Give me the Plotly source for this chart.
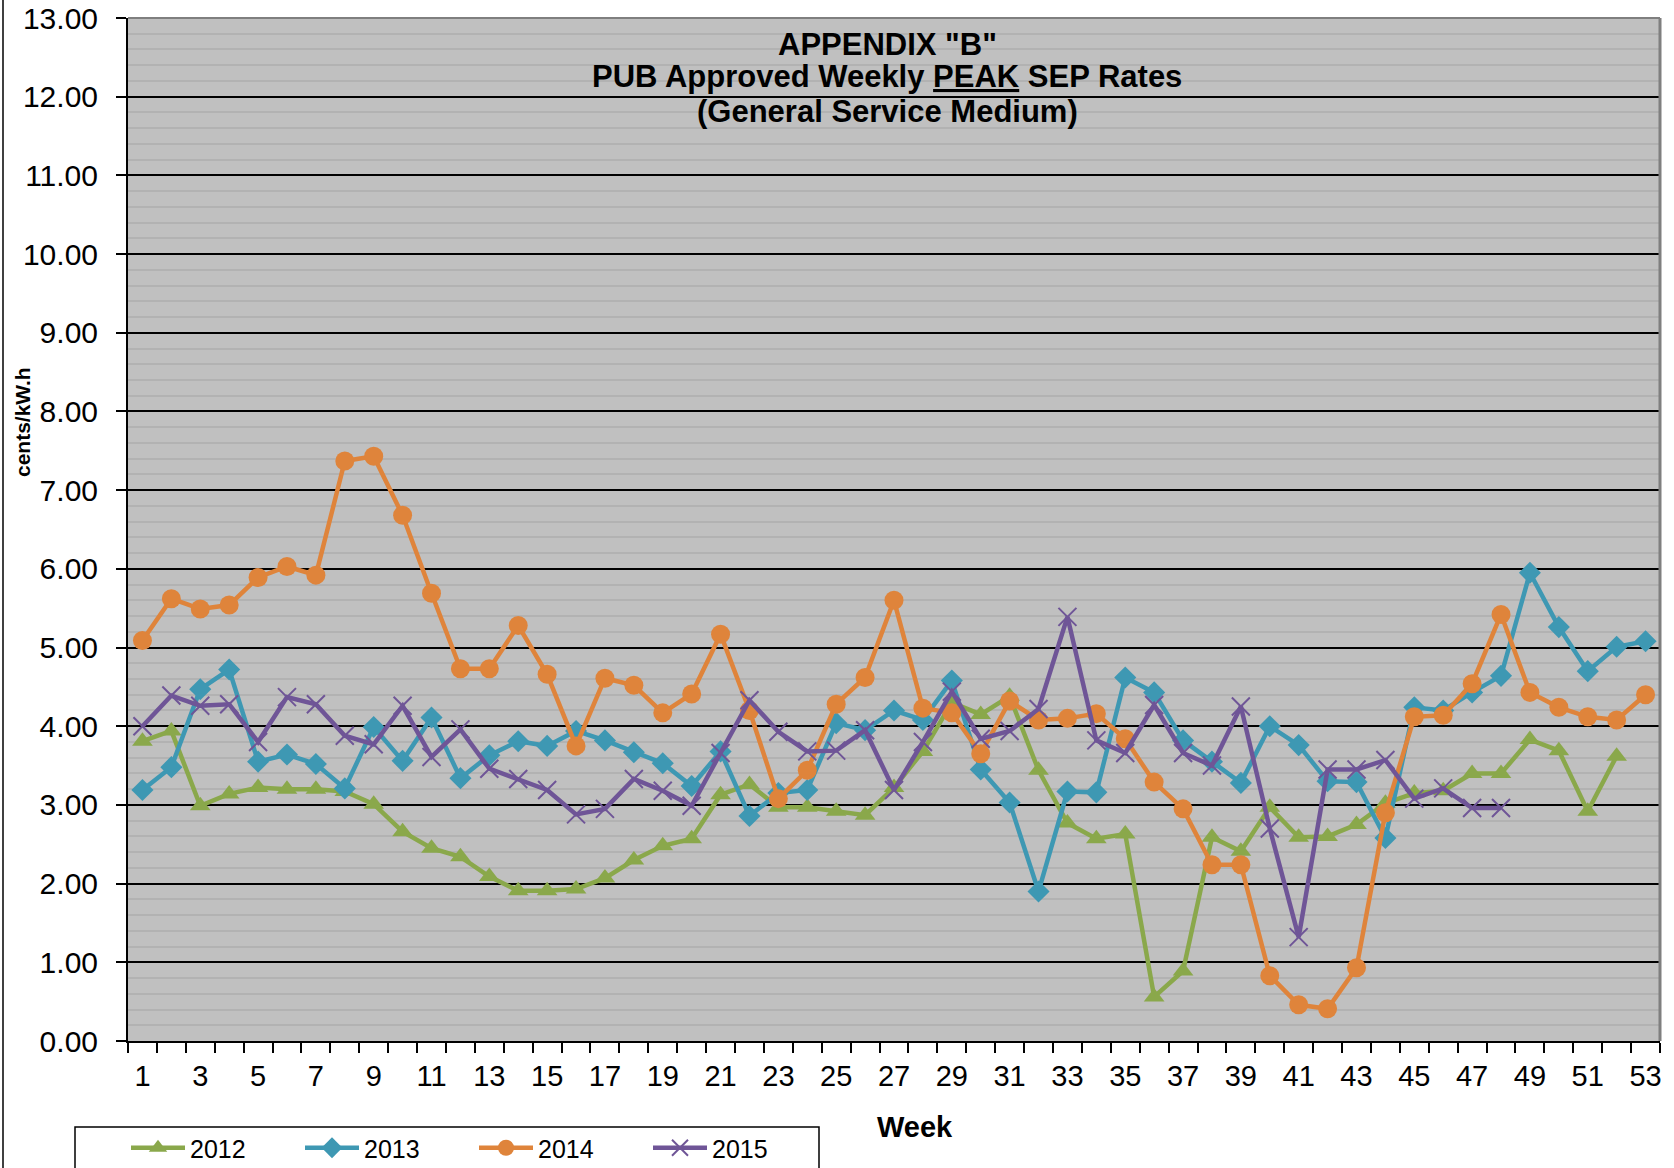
import plotly.graph_objects as go

# ---------------- data ----------------
weeks = list(range(1, 54))

rates_2012 = [3.81, 3.94, 2.99, 3.14, 3.22, 3.20, 3.20, 3.17, 3.01, 2.66,
              2.45, 2.34, 2.09, 1.91, 1.91, 1.93, 2.07, 2.30, 2.48, 2.57,
              3.13, 3.26, 2.97, 2.97, 2.92, 2.87, 3.22, 3.68, 4.30, 4.15,
              4.38, 3.44, 2.77, 2.57, 2.63, 0.56, 0.89, 2.59, 2.41, 2.97,
              2.59, 2.60, 2.75, 3.02, 3.15, 3.18, 3.40, 3.40, 3.83, 3.69,
              2.92, 3.62]

rates_2013 = [3.19, 3.48, 4.47, 4.72, 3.55, 3.64, 3.52, 3.21, 3.99, 3.56,
              4.11, 3.34, 3.63, 3.81, 3.75, 3.94, 3.82, 3.67, 3.53, 3.24,
              3.68, 2.86, 3.15, 3.19, 4.04, 3.95, 4.20, 4.08, 4.58, 3.45,
              3.03, 1.90, 3.17, 3.16, 4.62, 4.43, 3.82, 3.55, 3.28, 4.00,
              3.76, 3.30, 3.29, 2.58, 4.24, 4.20, 4.43, 4.64, 5.95, 5.26,
              4.70, 5.01, 5.08]

rates_2014 = [5.09, 5.62, 5.49, 5.54, 5.89, 6.03, 5.92, 7.37, 7.43, 6.68,
              5.69, 4.73, 4.73, 5.28, 4.66, 3.75, 4.61, 4.52, 4.17, 4.41,
              5.17, 4.20, 3.08, 3.44, 4.28, 4.62, 5.60, 4.23, 4.17, 3.65,
              4.32, 4.08, 4.10, 4.16, 3.84, 3.29, 2.95, 2.24, 2.24, 0.83,
              0.46, 0.41, 0.93, 2.90, 4.12, 4.14, 4.54, 5.42, 4.43, 4.24,
              4.12, 4.08, 4.40]

rates_2015 = [4.00, 4.39, 4.26, 4.28, 3.80, 4.37, 4.28, 3.88, 3.77, 4.26,
              3.61, 3.96, 3.46, 3.33, 3.19, 2.88, 2.95, 3.33, 3.18, 2.99,
              3.66, 4.33, 3.93, 3.68, 3.69, 3.95, 3.19, 3.80, 4.44, 3.84,
              3.94, 4.22, 5.39, 3.82, 3.66, 4.27, 3.66, 3.50, 4.25, 2.70,
              1.32, 3.45, 3.45, 3.57, 3.08, 3.21, 2.96, 2.96]

series_names = ["2012", "2013", "2014", "2015"]
y_tick_values = list(range(0, 14))
x_tick_weeks = list(range(1, 54, 2))

# ---------------- figure ----------------
W, H = 1674, 1168
L, R, T, B = 128, 14, 18, 127
PW, PH = W - L - R, H - T - B


def px_x(x):
    return (x - L) / PW


def px_y(y):
    return (H - B - y) / PH


styles = [
    dict(color="#8aa84b", symbol="triangle-up", size=18),
    dict(color="#3e98b3", symbol="diamond", size=17),
    dict(color="#df843b", symbol="circle", size=19),
    dict(color="#6f5597", symbol="x-thin", size=18),
]
data = [rates_2012, rates_2013, rates_2014, rates_2015]

fig = go.Figure()
for name, vals, st in zip(series_names, data, styles):
    marker = dict(symbol=st["symbol"], size=st["size"], color=st["color"])
    if st["symbol"] == "x-thin":
        marker["line"] = dict(color=st["color"], width=2)
    else:
        marker["line"] = dict(width=0)
    fig.add_trace(go.Scatter(
        x=weeks[:len(vals)], y=vals, mode="lines+markers", name=name,
        line=dict(color=st["color"], width=4.5),
        marker=marker,
    ))

font_family = "Arial, Liberation Sans, sans-serif"

fig.update_layout(
    width=W, height=H,
    margin=dict(l=L, r=R, t=T, b=B, autoexpand=False),
    paper_bgcolor="white",
    plot_bgcolor="#c0c0c0",
    font=dict(family=font_family, color="black"),
    showlegend=True,
    legend=dict(
        orientation="h", x=px_x(126), y=px_y(1148),
        xanchor="left", yanchor="middle",
        bgcolor="rgba(0,0,0,0)", borderwidth=0,
        font=dict(size=25, family=font_family),
        itemwidth=54, entrywidth=105, entrywidthmode="pixels",
        traceorder="normal",
    ),
)

fig.update_xaxes(
    range=[0.5, 53.5],
    tickmode="array", tickvals=x_tick_weeks,
    ticktext=[str(w) for w in x_tick_weeks],
    ticks="", showgrid=False, zeroline=False,
    showline=True, linecolor="black", linewidth=2,
    tickfont=dict(size=29),
    ticklabelstandoff=8,
    minor=dict(tickmode="linear", tick0=0.5, dtick=1, ticks="outside",
               ticklen=10, tickwidth=1.5, tickcolor="black", showgrid=False),
)

fig.update_yaxes(
    range=[0, 13],
    tickmode="array", tickvals=y_tick_values,
    ticktext=[f"{v:.2f}" for v in y_tick_values],
    ticks="outside", ticklen=10, tickwidth=2, tickcolor="black",
    showline=True, linecolor="black", linewidth=2,
    showgrid=True, gridcolor="black", gridwidth=2, zeroline=False,
    tickfont=dict(size=30),
    ticklabelstandoff=12,
    minor=dict(tickmode="linear", tick0=0, dtick=0.2, showgrid=True,
               gridcolor="#b2b2b2", gridwidth=2, ticks=""),
)

# title lines & axis titles as annotations
ann = [
    ("APPENDIX \"B\"", 45),
    ("PUB Approved Weekly <u>PEAK</u> SEP Rates", 77),
    ("(General Service Medium)", 111),
]
for text, yy in ann:
    fig.add_annotation(text=f"<b>{text}</b>", xref="paper", yref="paper",
                       x=px_x(887), y=px_y(yy), xanchor="center", yanchor="middle",
                       showarrow=False, font=dict(size=31, family=font_family))

fig.add_annotation(text="<b>cents/kW.h</b>", xref="paper", yref="paper",
                   x=px_x(22), y=px_y(422), textangle=-90,
                   xanchor="center", yanchor="middle", showarrow=False,
                   font=dict(size=21, family=font_family))

fig.add_annotation(text="<b>Week</b>", xref="paper", yref="paper",
                   x=px_x(915), y=px_y(1127), xanchor="center", yanchor="middle",
                   showarrow=False, font=dict(size=29, family=font_family))

# borders
fig.add_shape(type="line", xref="paper", yref="paper", x0=0, x1=1, y0=1, y1=1,
              line=dict(color="#7f7f7f", width=2), layer="above")
fig.add_shape(type="line", xref="paper", yref="paper", x0=1, x1=1, y0=0, y1=1,
              line=dict(color="#7f7f7f", width=3), layer="above")
fig.add_shape(type="line", xref="paper", yref="paper", x0=px_x(3), x1=px_x(3),
              y0=px_y(0), y1=px_y(H), line=dict(color="#404040", width=2), layer="above")
# legend frame
fig.add_shape(type="rect", xref="paper", yref="paper",
              x0=px_x(75), x1=px_x(819), y0=px_y(1127), y1=px_y(1185),
              line=dict(color="black", width=1.5), fillcolor="white", layer="above")

fig.write_html("out.html",
               config={"displayModeBar": False},
               post_script="document.body.style.margin='0';document.body.style.padding='0';")
